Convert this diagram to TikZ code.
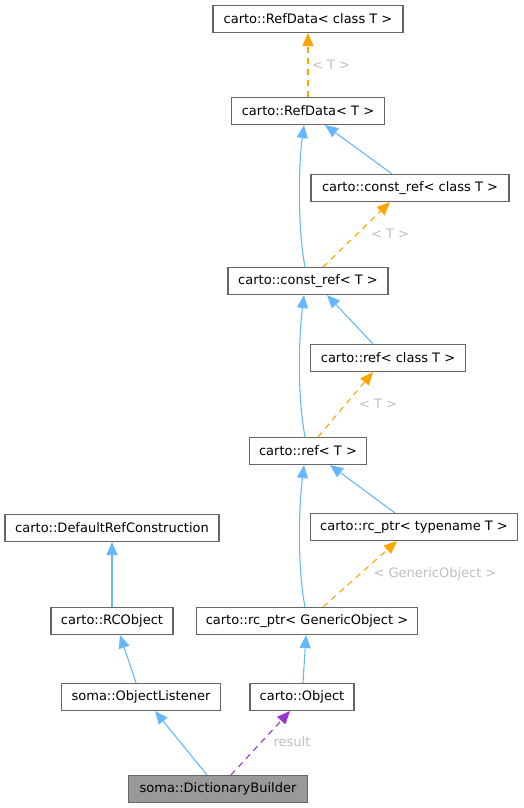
\documentclass[tikz,border=0pt]{standalone}
\usepackage{fontspec}
\setmainfont{DejaVu Sans}
\usepackage{tikz}
\usetikzlibrary{arrows.meta}
\usetikzlibrary{calc}
\definecolor{inhblue}{HTML}{63B8FF}
\definecolor{tplorange}{HTML}{FFA500}
\definecolor{usepurple}{HTML}{9A32CD}
\definecolor{boxgray}{HTML}{666666}
\definecolor{lblgray}{HTML}{BEBEBE}
\tikzset{
    cls/.style={draw=boxgray, line width=1.1pt, fill=white, minimum height=27pt, inner sep=0pt, font=\fontsize{13}{15}\selectfont},
    inh/.style={draw=inhblue, line width=1.1pt, -{Triangle[length=13pt,width=11pt]}},
    tpl/.style={draw=tplorange, line width=1.1pt, dash pattern=on 6pt off 5pt, -{Triangle[length=13pt,width=11pt]}},
    usage/.style={draw=usepurple, line width=1.1pt, dash pattern=on 6pt off 5pt, -{Triangle[length=13pt,width=11pt]}},
    lbl/.style={text=lblgray, font=\fontsize{13}{15}\selectfont}
}

\begin{document}
\begin{tikzpicture}[x=1pt, y=-1pt]
            \useasboundingbox (0,0) rectangle (524,808);

            % 类节点
            \node[cls, minimum width=190pt] (refdataC) at (308,19) {carto::RefData< class T >};
            \node[cls, minimum width=153pt] (refdata) at (308,111) {carto::RefData< T >};
            \node[cls, minimum width=198pt] (constrefC) at (410,188) {carto::const\_ref< class T >};
            \node[cls, minimum width=160pt] (constref) at (308,281) {carto::const\_ref< T >};
            \node[cls, minimum width=155pt] (refC) at (388,358) {carto::ref< class T >};
            \node[cls, minimum width=117pt] (ref) at (308,451) {carto::ref< T >};
            \node[cls, minimum width=207pt] (rcptrT) at (414,527) {carto::rc\_ptr< typename T >};
            \node[cls, minimum width=214pt] (defref) at (112,528) {carto::DefaultRefConstruction};
            \node[cls, minimum width=122pt] (rcobj) at (112,621) {carto::RCObject};
            \node[cls, minimum width=221pt] (rcptrG) at (307,621) {carto::rc\_ptr< GenericObject >};
            \node[cls, minimum width=159pt] (objlist) at (141,697) {soma::ObjectListener};
            \node[cls, minimum width=104pt] (object) at (302,697) {carto::Object};
            \node[cls, minimum width=179pt, fill=black!40] (dictb) at (218,789) {soma::DictionaryBuilder};

            % 模板实例化（虚线）
            \draw[tpl] (refdata.north) -- (refdataC.south);
            \node[lbl] (lblA) at (331,65) {< T >};
            \draw[tpl] ([xshift=15pt]constref.north) -- ([xshift=-20pt]constrefC.south);
            \node[lbl] (lblB) at (390,234) {< T >};
            \draw[tpl] ([xshift=10pt]ref.north) -- ([xshift=-15pt]refC.south);
            \node[lbl] (lblC) at (378,404) {< T >};
            \draw[tpl] ([xshift=16pt]rcptrG.north) -- ([xshift=-17pt]rcptrT.south);
            \node[lbl] (lblD) at (435,574) {< GenericObject >};

            % 继承
            \draw[inh] ([xshift=-18pt]constrefC.north) -- ([xshift=17pt]refdata.south);
            \draw[inh] ([xshift=-3pt]constref.north) .. controls (298,230) and (298,170) .. ([xshift=-4pt]refdata.south);
            \draw[inh] ([xshift=-15pt]refC.north) -- ([xshift=19pt]constref.south);
            \draw[inh] ([xshift=-3pt]ref.north) .. controls (298,400) and (298,345) .. ([xshift=-4pt]constref.south);
            \draw[inh] ([xshift=-19pt]rcptrT.north) -- ([xshift=22pt]ref.south);
            \draw[inh] ([xshift=-2pt]rcptrG.north) .. controls (298,570) and (298,515) .. ([xshift=-4pt]ref.south);
            \draw[inh] (rcobj.north) -- (defref.south);
            \draw[inh] ([xshift=-5pt]objlist.north) -- ([xshift=8pt]rcobj.south);
            \draw[inh] ([xshift=1pt]object.north) -- ([xshift=-1pt]rcptrG.south);
            \draw[inh] ([xshift=-11pt]dictb.north) -- ([xshift=14pt]objlist.south);

            % 成员使用
            \draw[usage] ([xshift=13pt]dictb.north) -- ([xshift=-12pt]object.south);
            \node[lbl] (lblE) at (292,742) {result};
        \end{tikzpicture}
\end{document}
